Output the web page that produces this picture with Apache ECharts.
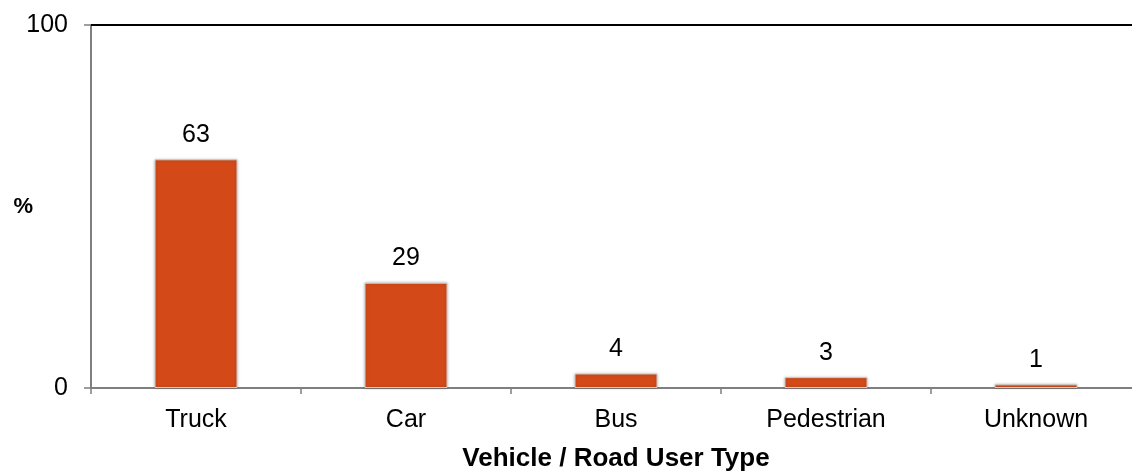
<!DOCTYPE html>
<html><head><meta charset="utf-8">
<script src="https://cdn.jsdelivr.net/npm/echarts@6/dist/echarts.min.js"></script>
<style>html,body{margin:0;padding:0;background:#fff}#c{width:1132px;height:472px}</style>
</head><body><div id="c"></div>
<script>
const categories = ['Truck', 'Car', 'Bus', 'Pedestrian', 'Unknown'];
const values = [63, 29, 4, 3, 1];
const yTicks = [0, 100];
const xTitle = 'Vehicle / Road User Type';
const yTitle = '%';

const chart = echarts.init(document.getElementById('c'), null, {renderer: 'canvas'});
const font = '"Liberation Sans", Arial, sans-serif';
chart.setOption({
  animation: false,
  grid: {left: 91, width: 1050, top: 25, bottom: 84, containLabel: false, outerBoundsMode: 'none'},
  xAxis: {
    type: 'category', data: categories, boundaryGap: true,
    axisLine: {lineStyle: {color: '#7f7f7f', width: 2}},
    axisTick: {show: true, length: 6, lineStyle: {color: '#7f7f7f', width: 1.5}},
    axisLabel: {fontFamily: font, fontSize: 25, color: '#000', margin: 20},
    name: xTitle, nameLocation: 'middle', nameGap: 58, nameMoveOverlap: false,
    nameTextStyle: {fontFamily: font, fontSize: 26, fontWeight: 'bold', color: '#000'}
  },
  yAxis: {
    type: 'value', min: yTicks[0], max: yTicks[1], interval: 100,
    axisLine: {show: true, lineStyle: {color: '#7f7f7f', width: 2}},
    axisTick: {show: true, length: 7, lineStyle: {color: '#7f7f7f', width: 1.5}},
    splitLine: {show: false},
    axisLabel: {fontFamily: font, fontSize: 25, color: '#000', margin: 23},
    name: yTitle, nameLocation: 'middle', nameGap: 58, nameRotate: 0, nameMoveOverlap: false,
    nameTextStyle: {fontFamily: font, fontSize: 22, fontWeight: 'bold', color: '#000', padding: [0, 0, 6, 0]}
  },
  series: [{
    type: 'bar', data: values, barWidth: 83,
    itemStyle: {color: '#D34A18', borderColor: '#cfcfcf', borderWidth: 1,
      shadowColor: 'rgba(0,0,0,0.25)', shadowBlur: 3},
    label: {show: true, position: 'top', distance: 12, fontFamily: font, fontSize: 25, color: '#000'},
    markLine: {
      silent: true, symbol: 'none', label: {show: false},
      lineStyle: {color: '#000', width: 2, type: 'solid'},
      data: [{yAxis: yTicks[1]}]
    }
  }]
});
</script></body></html>
